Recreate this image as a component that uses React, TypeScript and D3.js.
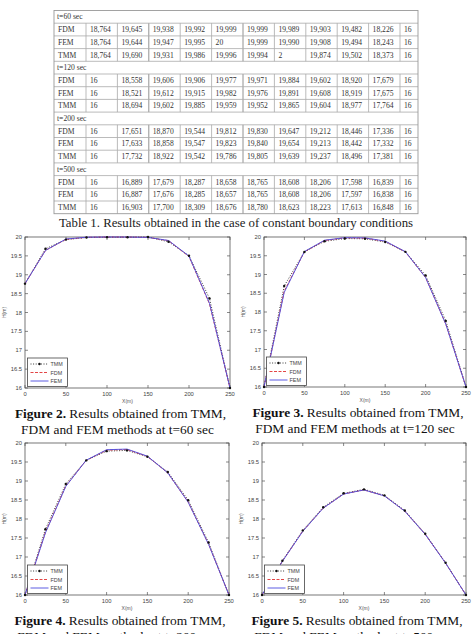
import React from "react";
import * as d3 from "d3";

// Node positions along the domain (m)
const xPositions = [0, 25, 50, 75, 100, 125, 150, 175, 200, 225, 250];

// Head values H(m) at each node, per method and time
const fdm60 = [18.764, 19.645, 19.938, 19.992, 19.999, 19.999, 19.989, 19.903, 19.482, 18.226, 16];
const fem60 = [18.764, 19.644, 19.947, 19.995, 20, 19.999, 19.99, 19.908, 19.494, 18.243, 16];
const tmm60 = [18.764, 19.69, 19.931, 19.986, 19.996, 19.994, 20, 19.874, 19.502, 18.373, 16];

const fdm120 = [16, 18.558, 19.606, 19.906, 19.977, 19.971, 19.884, 19.602, 18.92, 17.679, 16];
const fem120 = [16, 18.521, 19.612, 19.915, 19.982, 19.976, 19.891, 19.608, 18.919, 17.675, 16];
const tmm120 = [16, 18.694, 19.602, 19.885, 19.959, 19.952, 19.865, 19.604, 18.977, 17.764, 16];

const fdm200 = [16, 17.651, 18.87, 19.544, 19.812, 19.83, 19.647, 19.212, 18.446, 17.336, 16];
const fem200 = [16, 17.633, 18.858, 19.547, 19.823, 19.84, 19.654, 19.213, 18.442, 17.332, 16];
const tmm200 = [16, 17.732, 18.922, 19.542, 19.786, 19.805, 19.639, 19.237, 18.496, 17.381, 16];

const fdm500 = [16, 16.889, 17.679, 18.287, 18.658, 18.765, 18.608, 18.206, 17.598, 16.839, 16];
const fem500 = [16, 16.887, 17.676, 18.285, 18.657, 18.765, 18.608, 18.206, 17.597, 16.838, 16];
const tmm500 = [16, 16.903, 17.7, 18.309, 18.676, 18.78, 18.623, 18.223, 17.613, 16.848, 16];

// Table text, as printed
const rowT60FDM = ["FDM", "18,764", "19,645", "19,938", "19,992", "19,999", "19,999", "19,989", "19,903", "19,482", "18,226", "16"];
const rowT60FEM = ["FEM", "18,764", "19,644", "19,947", "19,995", "20", "19,999", "19,990", "19,908", "19,494", "18,243", "16"];
const rowT60TMM = ["TMM", "18,764", "19,690", "19,931", "19,986", "19,996", "19,994", "2", "19,874", "19,502", "18,373", "16"];
const rowT120FDM = ["FDM", "16", "18,558", "19,606", "19,906", "19,977", "19,971", "19,884", "19,602", "18,920", "17,679", "16"];
const rowT120FEM = ["FEM", "16", "18,521", "19,612", "19,915", "19,982", "19,976", "19,891", "19,608", "18,919", "17,675", "16"];
const rowT120TMM = ["TMM", "16", "18,694", "19,602", "19,885", "19,959", "19,952", "19,865", "19,604", "18,977", "17,764", "16"];
const rowT200FDM = ["FDM", "16", "17,651", "18,870", "19,544", "19,812", "19,830", "19,647", "19,212", "18,446", "17,336", "16"];
const rowT200FEM = ["FEM", "16", "17,633", "18,858", "19,547", "19,823", "19,840", "19,654", "19,213", "18,442", "17,332", "16"];
const rowT200TMM = ["TMM", "16", "17,732", "18,922", "19,542", "19,786", "19,805", "19,639", "19,237", "18,496", "17,381", "16"];
const rowT500FDM = ["FDM", "16", "16,889", "17,679", "18,287", "18,658", "18,765", "18,608", "18,206", "17,598", "16,839", "16"];
const rowT500FEM = ["FEM", "16", "16,887", "17,676", "18,285", "18,657", "18,765", "18,608", "18,206", "17,597", "16,838", "16"];
const rowT500TMM = ["TMM", "16", "16,903", "17,700", "18,309", "18,676", "18,780", "18,623", "18,223", "17,613", "16,848", "16"];

const tableRows: (string | string[])[] = [
  "t=60 sec", rowT60FDM, rowT60FEM, rowT60TMM,
  "t=120 sec", rowT120FDM, rowT120FEM, rowT120TMM,
  "t=200 sec", rowT200FDM, rowT200FEM, rowT200TMM,
  "t=500 sec", rowT500FDM, rowT500FEM, rowT500TMM,
];

const methodNames = ["TMM", "FDM", "FEM"];

const serif = "'Liberation Serif', 'Times New Roman', serif";
const sans = "'Liberation Sans', Arial, sans-serif";

function ResultsTable() {
  const left = 54;
  const right = 418;
  const top = 10.5;
  const rowH = 12.7;
  const labelW = 32;
  const colW = 31.4;
  const colEdges = [left, left + labelW];
  for (let i = 0; i < 10; i++) colEdges.push(left + labelW + colW * (i + 1));
  colEdges.push(right);
  const bottom = top + rowH * tableRows.length;

  return (
    <g>
      {tableRows.map((row, r) => {
        const y0 = top + rowH * r;
        const cy = y0 + rowH / 2 + 2.6;
        if (typeof row === "string") {
          return (
            <text key={r} x={left + 3} y={cy} fontFamily={serif} fontSize={7.6} fill="#333">
              {row}
            </text>
          );
        }
        return (
          <g key={r}>
            {row.map((cell, c) => (
              <text key={c} x={colEdges[c] + 4} y={cy} fontFamily={serif} fontSize={7.6} fill="#333">
                {cell}
              </text>
            ))}
            {colEdges.slice(1, -1).map((ex, c) => (
              <line key={c} x1={ex} x2={ex} y1={y0} y2={y0 + rowH} stroke={c === 2 || c === 5 ? "#777" : "#aaa"} strokeWidth={0.8} />
            ))}
          </g>
        );
      })}
      {tableRows.map((_, r) =>
        r === 0 ? null : (
          <line key={r} x1={left} x2={right} y1={top + rowH * r} y2={top + rowH * r} stroke="#aaa" strokeWidth={0.8} />
        )
      )}
      <rect x={left} y={top} width={right - left} height={bottom - top} fill="none" stroke="#999" strokeWidth={0.9} />
      <text x={236} y={bottom + 13} textAnchor="middle" fontFamily={serif} fontSize={12.8} fill="#222">
        Table 1. Results obtained in the case of constant boundary conditions
      </text>
    </g>
  );
}

type Box = { left: number; right: number; top: number; bottom: number };

function Chart({ box, tmm, fdm, fem, figNum, timeText }: { box: Box; tmm: number[]; fdm: number[]; fem: number[]; figNum: number; timeText: string }) {
  const x = d3.scaleLinear().domain([0, 250]).range([box.left, box.right]);
  const y = d3.scaleLinear().domain([16, 20]).range([box.bottom, box.top]);
  const line = d3
    .line<number>()
    .x((_, i) => x(xPositions[i]))
    .y((d) => y(d));
  const xTicks = x.ticks(5);
  const yTicks = y.ticks(8);
  const tk = 3;
  const cx = (box.left + box.right) / 2;
  const lg = { x: box.left + 2.5, y: box.bottom - 30, w: 40, h: 28.5 };

  return (
    <g>
      <rect x={box.left} y={box.top} width={box.right - box.left} height={box.bottom - box.top} fill="#fff" stroke="#555" strokeWidth={0.8} />
      {xTicks.map((t) => (
        <g key={"x" + t}>
          <line x1={x(t)} x2={x(t)} y1={box.bottom} y2={box.bottom - tk} stroke="#555" strokeWidth={0.7} />
          <line x1={x(t)} x2={x(t)} y1={box.top} y2={box.top + tk} stroke="#555" strokeWidth={0.7} />
          <text x={x(t)} y={box.bottom + 8} textAnchor="middle" fontFamily={sans} fontSize={5.8} fill="#444">
            {t}
          </text>
        </g>
      ))}
      {yTicks.map((t) => (
        <g key={"y" + t}>
          <line x1={box.left} x2={box.left + tk} y1={y(t)} y2={y(t)} stroke="#555" strokeWidth={0.7} />
          <line x1={box.right} x2={box.right - tk} y1={y(t)} y2={y(t)} stroke="#555" strokeWidth={0.7} />
          <text x={box.left - 3} y={y(t) + 2} textAnchor="end" fontFamily={sans} fontSize={5.8} fill="#444">
            {t}
          </text>
        </g>
      ))}
      <text x={cx} y={box.bottom + 15} textAnchor="middle" fontFamily={sans} fontSize={5} fill="#555">
        X(m)
      </text>
      <text
        transform={`translate(${box.left - 19},${(box.top + box.bottom) / 2}) rotate(-90)`}
        textAnchor="middle"
        fontFamily={sans}
        fontSize={5}
        fill="#555"
      >
        H(m)
      </text>

      <path d={line(tmm) || ""} fill="none" stroke="#222" strokeWidth={0.9} strokeDasharray="1,1.6" />
      <path d={line(fdm) || ""} fill="none" stroke="#e03030" strokeWidth={0.9} strokeDasharray="3,1.5" />
      <path d={line(fem) || ""} fill="none" stroke="#4a4adf" strokeWidth={0.9} />
      {tmm.map((v, i) => (
        <circle key={i} cx={x(xPositions[i])} cy={y(v)} r={1.2} fill="#111" />
      ))}

      <rect x={lg.x} y={lg.y} width={lg.w} height={lg.h} fill="#fff" stroke="#444" strokeWidth={0.8} />
      {methodNames.map((m, i) => {
        const ly = lg.y + 6 + i * 8.5;
        return (
          <g key={m}>
            <line
              x1={lg.x + 3}
              x2={lg.x + 21}
              y1={ly}
              y2={ly}
              stroke={m === "TMM" ? "#222" : m === "FDM" ? "#e03030" : "#4a4adf"}
              strokeWidth={0.9}
              strokeDasharray={m === "TMM" ? "1,1.6" : m === "FDM" ? "3,1.5" : undefined}
            />
            {m === "TMM" && <circle cx={lg.x + 12} cy={ly} r={1.2} fill="#111" />}
            <text x={lg.x + 23} y={ly + 2} fontFamily={sans} fontSize={5.4} fill="#444">
              {m}
            </text>
          </g>
        );
      })}

      <text x={cx - 7} y={box.bottom + 30} textAnchor="middle" fontFamily={serif} fontSize={13.4} fill="#111">
        <tspan fontWeight="bold">{`Figure ${figNum}.`}</tspan>
        {" Results obtained from TMM,"}
      </text>
      <text x={cx - 10} y={box.bottom + 46} textAnchor="middle" fontFamily={serif} fontSize={13.4} fill="#111">
        {`FDM and FEM methods at ${timeText}`}
      </text>
    </g>
  );
}

export default function App() {
  return (
    <svg
      width={472}
      height={634}
      viewBox="0 0 472 634"
      style={{ position: "absolute", left: 0, top: 0, display: "block", background: "#fff" }}
    >
      <rect width={472} height={634} fill="#fff" />
      <ResultsTable />
      <Chart box={{ left: 25, right: 230, top: 237, bottom: 388 }} tmm={tmm60} fdm={fdm60} fem={fem60} figNum={2} timeText="t=60 sec" />
      <Chart box={{ left: 264, right: 466, top: 237, bottom: 387 }} tmm={tmm120} fdm={fdm120} fem={fem120} figNum={3} timeText="t=120 sec" />
      <Chart box={{ left: 25, right: 229, top: 443, bottom: 595 }} tmm={tmm200} fdm={fdm200} fem={fem200} figNum={4} timeText="t=200 sec" />
      <Chart box={{ left: 262, right: 466, top: 443, bottom: 595 }} tmm={tmm500} fdm={fdm500} fem={fem500} figNum={5} timeText="t=500 sec" />
    </svg>
  );
}
